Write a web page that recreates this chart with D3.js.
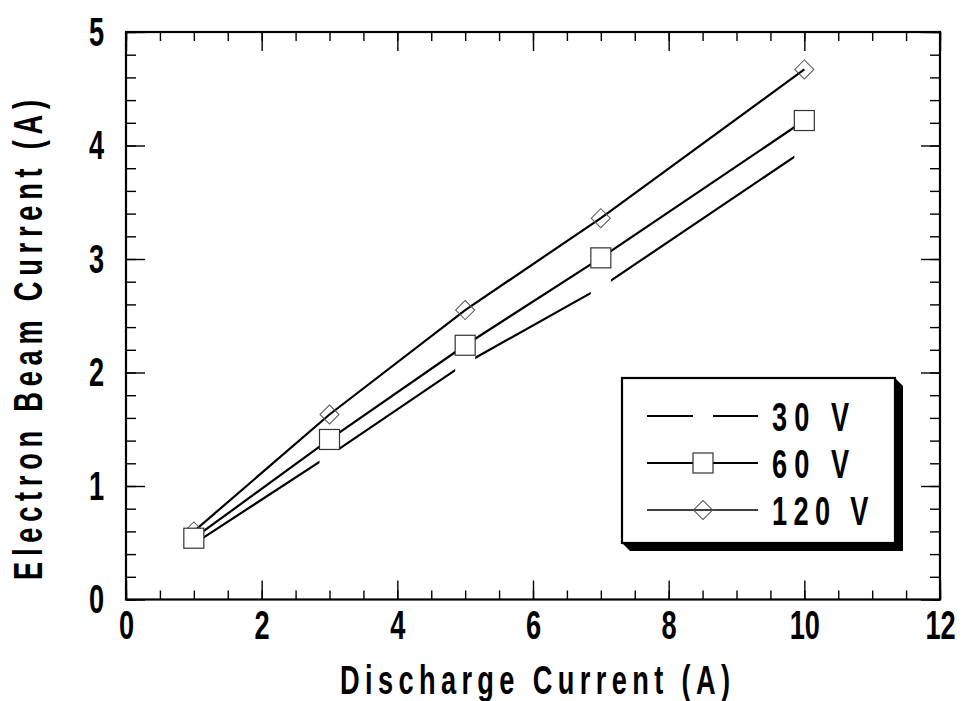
<!DOCTYPE html>
<html>
<head>
<meta charset="utf-8">
<script src="https://cdn.jsdelivr.net/npm/d3@7"></script>
<style>
  body { margin: 0; background: #fff; }
  text { font-family: "Liberation Sans", Arial, sans-serif; font-weight: bold; fill: #000; }
</style>
</head>
<body>
<div id="chart"></div>
<script>
// discharge current (A) and electron beam current (A) for each voltage
var current = [1, 3, 5, 7, 10];
var beam30 = [0.49, 1.27, 2.08, 2.75, 3.96];
var beam60 = [0.54, 1.41, 2.24, 3.01, 4.22];
var beam120 = [0.60, 1.63, 2.55, 3.36, 4.67];
var seriesNames = ["30 V", "60 V", "120 V"];
var xMajor = [0, 2, 4, 6, 8, 10, 12];
var yMajor = [0, 1, 2, 3, 4, 5];

var W = 963, H = 701;
var plotL = 126, plotR = 940, plotT = 32, plotB = 599.5;
var SX = 0.68; // narrow glyphs

var svg = d3.select("#chart").append("svg")
  .attr("width", W).attr("height", H);

var x = d3.scaleLinear().domain([0, 12]).range([plotL, plotR]);
var y = d3.scaleLinear().domain([0, 5]).range([plotB, plotT]);

var xMinor = d3.range(0, 12.01, 0.5);
var yMinor = d3.range(0, 5.01, 0.2);

function clean(g) {
  g.select(".domain").remove();
  g.selectAll(".tick line").attr("stroke", "#000").attr("stroke-width", 1.4);
}

// ticks, all pointing inward
svg.append("g").attr("transform", "translate(0," + plotB + ")")
  .call(d3.axisBottom(x).tickValues(xMinor).tickSize(-9).tickFormat("")).call(clean);
svg.append("g").attr("transform", "translate(0," + plotT + ")")
  .call(d3.axisTop(x).tickValues(xMinor).tickSize(-9).tickFormat("")).call(clean);
svg.append("g").attr("transform", "translate(" + plotL + ",0)")
  .call(d3.axisLeft(y).tickValues(yMinor).tickSize(-10).tickFormat("")).call(clean);
svg.append("g").attr("transform", "translate(" + plotR + ",0)")
  .call(d3.axisRight(y).tickValues(yMinor).tickSize(-10).tickFormat("")).call(clean);

var xAxis = svg.append("g").attr("transform", "translate(0," + plotB + ")")
  .call(d3.axisBottom(x).tickValues(xMajor).tickSize(-19).tickFormat(d3.format("d"))).call(clean);
xAxis.selectAll("text")
  .attr("y", 0).attr("dy", null)
  .attr("font-size", 40)
  .attr("transform", "translate(0,39) scale(" + SX + ",1)");

svg.append("g").attr("transform", "translate(0," + plotT + ")")
  .call(d3.axisTop(x).tickValues(xMajor).tickSize(-19).tickFormat("")).call(clean);

var yAxis = svg.append("g").attr("transform", "translate(" + plotL + ",0)")
  .call(d3.axisLeft(y).tickValues(yMajor).tickSize(-19).tickFormat(d3.format("d"))).call(clean);
yAxis.selectAll("text")
  .attr("x", 0).attr("dy", null)
  .attr("font-size", 40)
  .attr("text-anchor", "end")
  .attr("transform", "translate(-22,13) scale(" + SX + ",1)");

svg.append("g").attr("transform", "translate(" + plotR + ",0)")
  .call(d3.axisRight(y).tickValues(yMajor).tickSize(-19).tickFormat("")).call(clean);

// frame
svg.append("rect")
  .attr("x", plotL).attr("y", plotT)
  .attr("width", plotR - plotL).attr("height", plotB - plotT)
  .attr("fill", "none").attr("stroke", "#000").attr("stroke-width", 2.2);

// axis titles
svg.append("text")
  .attr("transform", "translate(340,694) scale(" + SX + ",1)")
  .attr("font-size", 40)
  .attr("textLength", 390 / SX).attr("lengthAdjust", "spacing")
  .text("Discharge Current (A)");

svg.append("text")
  .attr("transform", "translate(42,580) rotate(-90) scale(" + SX + ",1)")
  .attr("font-size", 40)
  .attr("textLength", 480 / SX).attr("lengthAdjust", "spacing")
  .text("Electron Beam Current (A)");

var line = d3.line()
  .x(function(d) { return x(d[0]); })
  .y(function(d) { return y(d[1]); });

function pts(vals) { return current.map(function(c, i) { return [c, vals[i]]; }); }

var diamond = d3.symbol().type(d3.symbolSquare).size(13.5 * 13.5);

// 30 V: solid line broken by blank markers
svg.append("path").datum(pts(beam30)).attr("d", line)
  .attr("fill", "none").attr("stroke", "#000").attr("stroke-width", 2.2);
svg.selectAll(".m30").data(pts(beam30)).enter().append("rect")
  .attr("x", function(d) { return x(d[0]) - 10; })
  .attr("y", function(d) { return y(d[1]) - 10; })
  .attr("width", 20).attr("height", 20).attr("fill", "#fff");

// 120 V: line with open diamonds
svg.append("path").datum(pts(beam120)).attr("d", line)
  .attr("fill", "none").attr("stroke", "#000").attr("stroke-width", 2.2);
svg.selectAll(".m120").data(pts(beam120)).enter().append("path")
  .attr("d", diamond)
  .attr("transform", function(d) { return "translate(" + x(d[0]) + "," + y(d[1]) + ") rotate(45)"; })
  .attr("fill", "none").attr("stroke", "#555").attr("stroke-width", 1);

// 60 V: line with open squares
svg.append("path").datum(pts(beam60)).attr("d", line)
  .attr("fill", "none").attr("stroke", "#000").attr("stroke-width", 2.2);
svg.selectAll(".m60").data(pts(beam60)).enter().append("rect")
  .attr("x", function(d) { return x(d[0]) - 10; })
  .attr("y", function(d) { return y(d[1]) - 10; })
  .attr("width", 20).attr("height", 20)
  .attr("fill", "#fff").attr("stroke", "#333").attr("stroke-width", 1.2);

// legend with drop shadow
var lx0 = 622, ly0 = 378, lx1 = 895, ly1 = 543, sh = 8;
svg.append("polygon")
  .attr("points", [[lx1, ly0], [lx1 + sh, ly0 + sh], [lx1 + sh, ly1 + sh],
                   [lx0 + sh, ly1 + sh], [lx0, ly1], [lx1, ly1]].join(" "))
  .attr("fill", "#000");
svg.append("rect")
  .attr("x", lx0).attr("y", ly0).attr("width", lx1 - lx0).attr("height", ly1 - ly0)
  .attr("fill", "#fff").attr("stroke", "#000").attr("stroke-width", 2.2);

var rowY = [416, 463, 510];
var lg = svg.selectAll(".leg").data(seriesNames).enter().append("g")
  .attr("transform", function(d, i) { return "translate(0," + rowY[i] + ")"; });
lg.append("line").attr("x1", 647).attr("x2", 758)
  .attr("stroke", "#000").attr("stroke-width", function(d, i) { return i == 2 ? 1.6 : 2; });
lg.filter(function(d, i) { return i == 0; }).append("rect")
  .attr("x", 693).attr("y", -10).attr("width", 20).attr("height", 20).attr("fill", "#fff");
lg.filter(function(d, i) { return i == 1; }).append("rect")
  .attr("x", 693).attr("y", -10).attr("width", 20).attr("height", 20)
  .attr("fill", "#fff").attr("stroke", "#333").attr("stroke-width", 1.2);
lg.filter(function(d, i) { return i == 2; }).append("path")
  .attr("d", diamond).attr("transform", "translate(703,0) rotate(45)")
  .attr("fill", "none").attr("stroke", "#555").attr("stroke-width", 1);
lg.append("text")
  .attr("transform", "translate(772,15) scale(" + SX + ",1)")
  .attr("font-size", 40)
  .attr("textLength", function(d) { return d.length * 19.3 / SX; })
  .attr("lengthAdjust", "spacing")
  .text(function(d) { return d; });
</script>
</body>
</html>
